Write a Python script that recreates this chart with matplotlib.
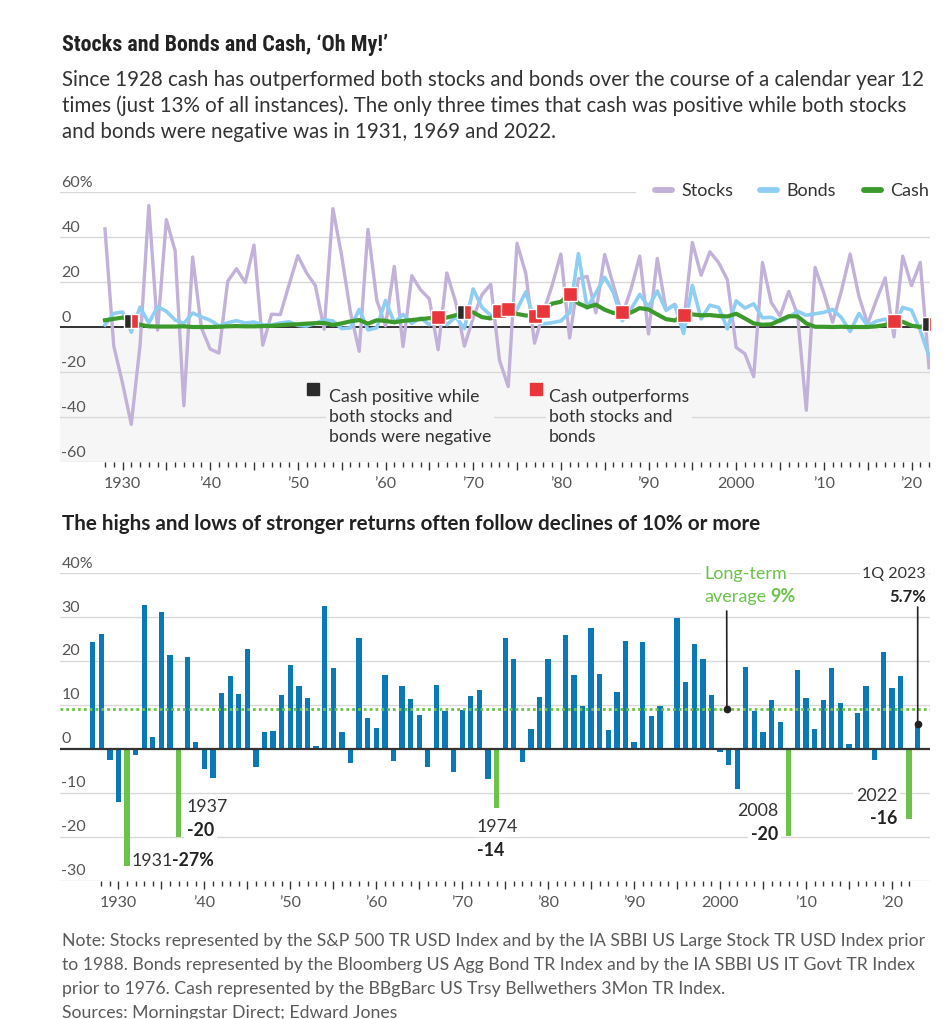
import numpy as np
import matplotlib
matplotlib.use('Agg')
import matplotlib.pyplot as plt
from matplotlib.lines import Line2D
from matplotlib.patches import Rectangle
from matplotlib import font_manager

plt.rcParams['font.family'] = ['Lato', 'DejaVu Sans']

# ---- data: annual returns, % ----
years = np.arange(1928, 2023)
stocks = [43.6, -8.4, -24.9, -43.3, -8.2, 54.0, -1.4, 47.7, 33.9, -35.0,   # 1928-37
          31.1, -0.4, -9.8, -11.6, 20.3, 25.9, 19.8, 36.4, -8.1, 5.7,      # 1938-47
          5.5, 18.8, 31.7, 24.0, 18.4, -1.0, 52.6, 31.6, 6.6, -10.8,       # 1948-57
          43.4, 12.0, 0.5, 26.9, -8.7, 22.8, 16.5, 12.5, -10.1, 24.0,      # 1958-67
          11.1, -8.5, 4.0, 14.3, 19.0, -14.7, -26.5, 37.2, 23.8, -7.2,     # 1968-77
          6.6, 18.4, 32.4, -4.9, 21.4, 22.5, 6.3, 32.2, 18.5, 5.2,         # 1978-87
          16.8, 31.5, -3.1, 30.5, 7.6, 10.1, 1.3, 37.6, 23.0, 33.4,        # 1988-97
          28.6, 21.0, -9.1, -11.9, -22.1, 28.7, 10.9, 4.9, 15.8, 5.5,      # 1998-2007
          -37.0, 26.5, 15.1, 2.1, 16.0, 32.4, 13.7, 1.4, 12.0, 21.8,       # 2008-17
          -4.4, 31.5, 18.4, 28.7, -18.1]                                   # 2018-22
bonds = [0.9, 6.0, 6.7, -2.3, 8.8, 1.8, 9.0, 7.0, 3.1, 1.6,
         6.2, 4.5, 3.0, 0.5, 1.9, 2.8, 1.8, 2.2, 1.0, 0.9,
         1.8, 2.3, 0.7, 0.4, 1.6, 3.2, 2.7, -0.7, -0.4, 7.8,
         -1.3, -0.4, 11.8, 1.9, 5.6, 1.6, 4.0, 1.0, 4.7, 1.0,
         4.5, -0.7, 16.9, 8.7, 5.2, 4.6, 5.7, 7.8, 15.6, 3.0,
         1.4, 1.9, 2.7, 6.3, 32.6, 8.4, 15.2, 22.1, 15.3, 2.8,
         7.9, 14.5, 9.0, 16.0, 7.4, 9.8, -2.9, 18.5, 3.6, 9.7,
         8.7, -0.8, 11.6, 8.4, 10.3, 4.1, 4.3, 2.4, 4.3, 7.0,
         5.2, 5.9, 6.5, 7.8, 4.2, -2.0, 6.0, 0.5, 2.6, 3.5,
         0.0, 8.7, 7.5, -1.5, -13.0]
cash = [3.0, 3.6, 4.2, 2.6, 1.0, 0.3, 0.2, 0.2, 0.2, 0.3,
        0.0, 0.0, 0.0, 0.1, 0.3, 0.4, 0.3, 0.3, 0.4, 0.5,
        0.8, 1.1, 1.2, 1.5, 1.7, 1.8, 0.9, 1.6, 2.5, 3.1,
        1.5, 3.0, 2.7, 2.1, 2.7, 3.1, 3.5, 3.9, 4.4, 4.2,
        5.2, 6.6, 6.5, 4.4, 3.8, 6.9, 8.0, 5.8, 5.1, 5.1,
        7.2, 10.4, 11.2, 14.7, 10.5, 8.8, 9.9, 7.7, 6.2, 6.8,
        6.4, 8.4, 7.8, 5.6, 3.5, 2.9, 5.2, 5.6, 5.2, 5.3,
        4.9, 4.7, 5.9, 3.8, 1.6, 1.0, 1.2, 3.0, 4.8, 4.7,
        1.6, 0.1, 0.1, 0.0, 0.1, 0.0, 0.0, 0.0, 0.3, 0.9,
        2.5, 2.3, 0.6, 0.0, 1.5]
outperform_years = [1931, 1966, 1969, 1973, 1974, 1977, 1978, 1981, 1987, 1994, 2018, 2022]
all_negative_years = [1931, 1969, 2022]

# 60/40 style balanced returns (bottom panel), 1927 to 1Q 2023
bal_years = np.arange(1927, 2024)
balanced = [24.2, 26.2, -2.6, -12.2, -26.6, -1.4, 32.8, 2.6, 31.1, 21.4,   # 1927-36
            -20.1, 20.9, 1.6, -4.6, -6.6, 12.8, 16.5, 12.5, 22.6, -4.2,    # 1937-46
            3.8, 4.0, 12.2, 19.1, 14.4, 11.5, 0.75, 32.4, 18.5, 3.8,       # 1947-56
            -3.2, 25.2, 6.9, 4.8, 16.7, -2.8, 14.2, 11.4, 7.8, -4.1,       # 1957-66
            14.6, 8.5, -5.3, 8.8, 12.0, 13.4, -6.9, -13.4, 25.2, 20.4,     # 1967-76
            -2.9, 4.5, 11.8, 20.4, -0.3, 25.9, 16.7, 9.8, 27.6, 17.1,      # 1977-86
            4.2, 13.0, 24.6, 1.6, 24.4, 7.5, 9.8, -0.3, 29.7, 15.1,        # 1987-96
            23.8, 20.4, 12.2, -0.75, -3.6, -9.1, 18.6, 8.5, 3.8, 11.1,     # 1997-2006
            6.0, -19.8, 18.0, 11.5, 4.5, 11.1, 18.5, 10.5, 1.2, 8.2,       # 2007-16
            14.4, -2.6, 22.1, 13.8, 16.5, -16.0, 5.7]                      # 2017-23
decline_years = [1931, 1937, 1974, 2008, 2022]
long_term_avg = 9

# ---- layout helpers (pixel based) ----
W, H = 946, 1020
fig = plt.figure(figsize=(W / 100, H / 100), dpi=100)
fig.patch.set_facecolor('white')

def fx(px):
    return px / W

def fy(py):
    return 1 - py / H

def px_axes(left, top, right, bottom):
    return fig.add_axes([left / W, 1 - bottom / H, (right - left) / W, (bottom - top) / H])

TXT = '#333333'
TICK = '#555555'
GRID = '#d9d9d9'
SHADE = '#f6f6f6'
C_STOCK = '#c2b1d8'
C_BOND = '#8dcef2'
C_CASH = '#3c9a2c'
C_RED = '#e8363b'
C_BLACK = '#2b2b2b'
C_BAR = '#0a79b5'
C_GREEN = '#6cc24a'

# narrow face for the headline if one is around
installed = {f.name for f in font_manager.fontManager.ttflist}
narrow = [n for n in ['Liberation Sans Narrow', 'DejaVu Sans Condensed', 'Roboto Condensed'] if n in installed]
title_family = (narrow[:1] or ['Roboto']) + ['DejaVu Sans']
title_size = 15.8 if narrow else 14.5

decade_lbl = {1930: '1930', 1940: '\u201940', 1950: '\u201950', 1960: '\u201960', 1970: '\u201970',
              1980: '\u201980', 1990: '\u201990', 2000: '2000', 2010: '\u201910', 2020: '\u201920'}

def style_xaxis(ax):
    for s in ax.spines.values():
        s.set_visible(False)
    major = np.arange(1930, 2021, 5)
    ax.set_xticks(major)
    ax.set_xticklabels([decade_lbl.get(y, '') for y in major])
    ax.set_xticks(np.arange(1928, 2023), minor=True)
    ax.tick_params(axis='x', which='major', length=6, width=1, color='#333', pad=4,
                   labelsize=11.5, labelcolor=TICK)
    ax.tick_params(axis='x', which='minor', length=3.5, width=1, color='#333')
    ax.tick_params(axis='y', left=False, labelleft=False)

def ylabels(ax, vals):
    for i, v in enumerate(vals):
        s = f'{v}%' if i == 0 else f'{v}'
        ax.annotate(s, xy=(0, v), xycoords=('axes fraction', 'data'), xytext=(1, 7.5),
                    textcoords='offset points', ha='left', va='center', fontsize=11.5, color=TICK)

def ftext(ax, px, py, s, **kw):
    return ax.text(fx(px), fy(py), s, transform=fig.transFigure, **kw)

# ---- header ----
fig.text(fx(62), fy(45), 'Stocks and Bonds and Cash, \u2018Oh My!\u2019', fontsize=title_size,
         fontweight='bold', color='#222', va='center', family=title_family)
sub = ['Since 1928 cash has outperformed both stocks and bonds over the course of a calendar year 12',
       'times (just 13% of all instances). The only three times that cash was positive while both stocks',
       'and bonds were negative was in 1931, 1969 and 2022.']
for i, line in enumerate(sub):
    fig.text(fx(62), fy(80 + 26 * i), line, fontsize=14.8, color=TXT, va='center')

# ---- top panel: stocks / bonds / cash ----
ax1 = px_axes(60, 193, 930, 463)
ax1.set_xlim(1922.87, 2022.11)
ax1.set_ylim(-60, 60)
ax1.axhspan(-60, 0, color=SHADE, lw=0, zorder=0)
for v in [40, 20, -20, -40, -60]:
    ax1.axhline(v, color=GRID, lw=1, zorder=1)
ax1.axhline(60, xmax=(635 - 60) / 870, color=GRID, lw=1, zorder=1)
ax1.axhline(0, color='#222', lw=1.3, zorder=3)

ax1.plot(years, stocks, color=C_STOCK, lw=2.4, zorder=4)
ax1.plot(years, bonds, color=C_BOND, lw=2.6, zorder=5)
ax1.plot(years, cash, color=C_CASH, lw=3, zorder=6)

cash_by_year = dict(zip(years, cash))
for y in outperform_years:
    if y in all_negative_years:
        ax1.plot(y, cash_by_year[y], marker='s', ms=9.8, mfc=C_BLACK, mfcalt=C_RED, fillstyle='left',
                 mec='white', mew=1, zorder=7)
    else:
        ax1.plot(y, cash_by_year[y], marker='s', ms=9.8, mfc=C_RED, mec='white', mew=1, zorder=7)

style_xaxis(ax1)
ylabels(ax1, [60, 40, 20, 0, -20, -40, -60])

# legend
for x0, lab, col in [(655, 'Stocks', C_STOCK), (760, 'Bonds', C_BOND), (864, 'Cash', C_CASH)]:
    fig.add_artist(Line2D([fx(x0), fx(x0 + 17)], [fy(191), fy(191)], color=col, lw=4.2,
                          solid_capstyle='round'))
    fig.text(fx(x0 + 26), fy(191), lab, fontsize=13, color=TXT, va='center')

# marker key
fig.add_artist(Rectangle((fx(307), fy(396)), 12 / W, 12 / H, color=C_BLACK, transform=fig.transFigure))
fig.add_artist(Rectangle((fx(530), fy(396)), 12 / W, 12 / H, color=C_RED, transform=fig.transFigure))
bb = dict(facecolor=SHADE, edgecolor='none', pad=2)
ftext(ax1, 329, 417, 'Cash positive while\nboth stocks and\nbonds were negative', fontsize=12.8,
      color=TXT, va='center', linespacing=1.27, bbox=bb, zorder=2)
ftext(ax1, 549, 417, 'Cash outperforms\nboth stocks and\nbonds', fontsize=12.8,
      color=TXT, va='center', linespacing=1.27, bbox=bb, zorder=2)

# ---- bottom panel ----
fig.text(fx(62), fy(524), 'The highs and lows of stronger returns often follow declines of 10% or more',
         fontsize=14.9, fontweight='bold', color='#222', va='center')

ax2 = px_axes(60, 574, 930, 881.7)
ax2.set_xlim(1923.2, 2024.43)
ax2.set_ylim(-30, 40)
for v in [40, 30, 20, 10, -10, -20, -30]:
    ax2.axhline(v, color=GRID, lw=1, zorder=1)
bar_cols = [C_GREEN if y in decline_years else C_BAR for y in bal_years]
ax2.bar(bal_years, balanced, width=0.62, color=bar_cols, zorder=2)
ax2.axhline(0, color='#333', lw=1.6, zorder=3)
ax2.axhline(long_term_avg, color=C_GREEN, lw=2, ls=(0, (1, 1.1)), zorder=4)
style_xaxis(ax2)
ylabels(ax2, [40, 30, 20, 10, 0, -10, -20, -30])

wb = dict(facecolor='white', edgecolor='none', pad=2)
fs = 12.8
t = ftext(ax2, 132, 861, '1931', fontsize=fs, color=TXT, va='center', bbox=wb, zorder=1.5)
ax2.annotate('-27%', xy=(1, 0.5), xycoords=t, xytext=(-1, 0), textcoords='offset points',
             fontsize=fs, fontweight='bold', color='#222', va='center', ha='left', zorder=1.5)
ftext(ax2, 187, 807, '1937', fontsize=fs, color=TXT, va='center', bbox=wb, zorder=1.5)
ftext(ax2, 187, 831, '-20', fontsize=fs, fontweight='bold', color='#222', va='center', bbox=wb, zorder=1.5)
ftext(ax2, 477, 827, '1974', fontsize=fs, color=TXT, va='center', bbox=wb, zorder=1.5)
ftext(ax2, 477, 850, '-14', fontsize=fs, fontweight='bold', color='#222', va='center', bbox=wb, zorder=1.5)
ftext(ax2, 778, 811, '2008', fontsize=fs, color=TXT, va='center', ha='right', bbox=wb, zorder=1.5)
ftext(ax2, 778, 835, '-20', fontsize=fs, fontweight='bold', color='#222', va='center', ha='right',
      bbox=wb, zorder=1.5)
ftext(ax2, 897, 796, '2022', fontsize=fs, color=TXT, va='center', ha='right', bbox=wb, zorder=1.5)
ftext(ax2, 897, 819, '-16', fontsize=fs, fontweight='bold', color='#222', va='center', ha='right',
      bbox=wb, zorder=1.5)

ftext(ax2, 704, 574, 'Long-term', fontsize=13, color=C_GREEN, va='center', bbox=wb, zorder=1.5)
t = ftext(ax2, 704, 597, 'average', fontsize=13, color=C_GREEN, va='center', bbox=wb, zorder=1.5)
ax2.annotate('9%', xy=(1, 0.5), xycoords=t, xytext=(3, 0), textcoords='offset points',
             fontsize=13, fontweight='bold', color=C_GREEN, va='center', ha='left', zorder=1.5)
ftext(ax2, 926, 574, '1Q 2023', fontsize=11.5, color=TXT, va='center', ha='right', bbox=wb, zorder=1.5)
ftext(ax2, 926, 597, '5.7%', fontsize=12, fontweight='bold', color='#222', va='center', ha='right',
      bbox=wb, zorder=1.5)

# leader lines
avg_dot_year = 2000.8
ax2.annotate('', xy=(avg_dot_year, long_term_avg), xytext=(fx(726.7), fy(612)),
             textcoords='figure fraction', arrowprops=dict(arrowstyle='-', color='#222', lw=1.2,
                                                         shrinkA=0, shrinkB=0), zorder=5)
ax2.plot(avg_dot_year, long_term_avg, 'o', ms=4.5, color='#222', zorder=6)
ax2.annotate('', xy=(bal_years[-1], balanced[-1]), xytext=(fx(917.7), fy(608)),
             textcoords='figure fraction', arrowprops=dict(arrowstyle='-', color='#222', lw=1.2,
                                                         shrinkA=0, shrinkB=0), zorder=5)
ax2.plot(bal_years[-1], balanced[-1], 'o', ms=4.5, color='#222', zorder=6)

# ---- notes ----
notes = ['Note: Stocks represented by the S&P 500 TR USD Index and by the IA SBBI US Large Stock TR USD Index prior',
         'to 1988. Bonds represented by the Bloomberg US Agg Bond TR Index and by the IA SBBI US IT Govt TR Index',
         'prior to 1976. Cash represented by the BBgBarc US Trsy Bellwethers 3Mon TR Index.',
         'Sources: Morningstar Direct; Edward Jones']
for i, line in enumerate(notes):
    fig.text(fx(62), fy(941 + 24 * i), line, fontsize=12.7, color='#5a5a5a', va='center')

fig.savefig('out.png', dpi=100, facecolor='white')
